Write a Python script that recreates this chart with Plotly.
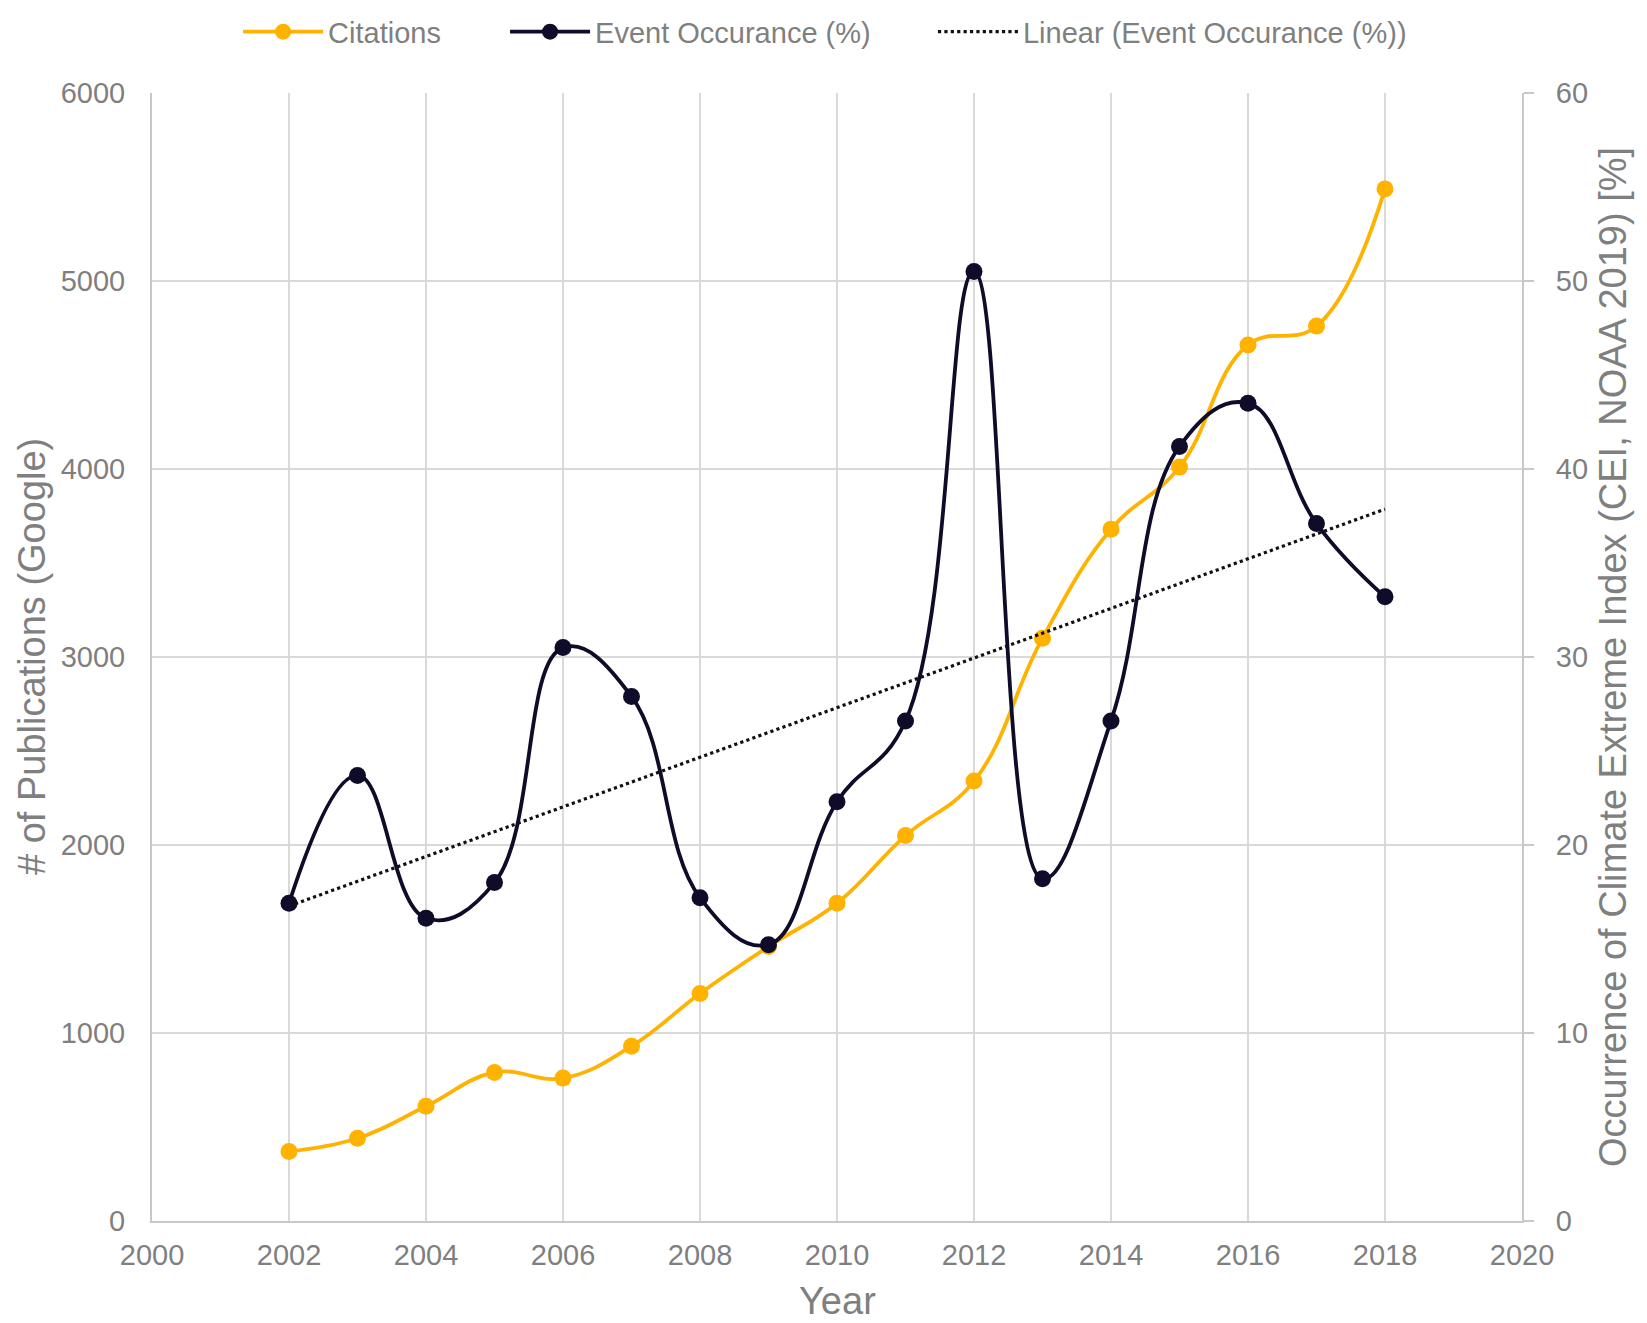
import numpy as np
import plotly.graph_objects as go

years = [2002, 2003, 2004, 2005, 2006, 2007, 2008, 2009, 2010,
         2011, 2012, 2013, 2014, 2015, 2016, 2017, 2018]
citations = [370, 440, 610, 790, 760, 930, 1210, 1460, 1690,
             2050, 2340, 3100, 3680, 4010, 4660, 4760, 5490]
event_pct = [16.9, 23.7, 16.1, 18.0, 30.5, 27.9, 17.2, 14.7, 22.3,
             26.6, 50.5, 18.2, 26.6, 41.2, 43.5, 37.1, 33.2]

x_ticks = list(range(2000, 2021, 2))
y1_ticks = list(range(0, 6001, 1000))
y2_ticks = list(range(0, 61, 10))

# linear trendline of the event occurrence series
coef = np.polyfit(years, event_pct, 1)
trend = np.polyval(coef, [years[0], years[-1]])

ORANGE = "#FFB300"
NAVY = "#0F0C29"
TXT = "#7F7F7F"
GRID = "#D9D9D9"
AXIS = "#C8C8C8"
FONT = "Liberation Sans, Arial, sans-serif"

fig = go.Figure()
fig.add_trace(go.Scatter(
    x=years, y=citations, name="Citations", mode="lines+markers",
    line=dict(color=ORANGE, width=3.8, shape="spline", smoothing=1.2),
    marker=dict(color=ORANGE, size=17), yaxis="y", legend="legend"))
fig.add_trace(go.Scatter(
    x=years, y=event_pct, name="Event Occurance (%)", mode="lines+markers",
    line=dict(color=NAVY, width=3.8, shape="spline", smoothing=1.2),
    marker=dict(color=NAVY, size=17), yaxis="y2", legend="legend2"))
fig.add_trace(go.Scatter(
    x=[years[0], years[-1]], y=trend, name="Linear (Event Occurance (%))",
    mode="lines", line=dict(color="#111111", width=3.2, dash="dot"),
    yaxis="y2", legend="legend3"))

def leg(xpos):
    return dict(orientation="h", xref="container", yref="container",
                x=xpos, xanchor="left", y=0.982, yanchor="middle",
                font=dict(size=29, color=TXT), itemwidth=80,
                bgcolor="rgba(0,0,0,0)")

fig.update_layout(
    width=1647, height=1323,
    margin=dict(l=144, r=133, t=85, b=110),
    paper_bgcolor="white", plot_bgcolor="white",
    font=dict(family=FONT, color=TXT, size=29),
    showlegend=True,
    legend=leg(0.1397), legend2=leg(0.3018), legend3=leg(0.5616),
    xaxis=dict(range=[2000, 2020], tickvals=x_ticks, showgrid=True,
               gridcolor=GRID, gridwidth=2, showline=True, linecolor=AXIS,
               linewidth=2, ticks="outside", ticklen=7,
               tickcolor="rgba(0,0,0,0)", zeroline=False,
               tickfont=dict(size=29, color=TXT)),
    yaxis=dict(range=[0, 6000], tickvals=y1_ticks, showgrid=True,
               gridcolor=GRID, gridwidth=2, showline=True, linecolor=AXIS,
               linewidth=2, ticks="outside", ticklen=19,
               tickcolor="rgba(0,0,0,0)", zeroline=False,
               tickfont=dict(size=29, color=TXT)),
    yaxis2=dict(range=[0, 60], tickvals=y2_ticks, overlaying="y",
                side="right", showgrid=False, showline=True, linecolor=AXIS,
                linewidth=2, ticks="outside", ticklen=10, tickcolor=AXIS,
                tickwidth=2, zeroline=False, ticklabelstandoff=16,
                tickfont=dict(size=29, color=TXT)),
    annotations=[
        dict(text="# of Publications (Google)", xref="paper", yref="paper",
             x=0, y=0.5, xshift=-120, textangle=-90, showarrow=False,
             xanchor="center", yanchor="middle",
             font=dict(size=38, color=TXT)),
        dict(text="Occurrence of Climate Extreme Index (CEI, NOAA 2019) [%]",
             xref="paper", yref="paper", x=1, y=0.5, xshift=91,
             textangle=-90, showarrow=False, xanchor="center",
             yanchor="middle", font=dict(size=38, color=TXT)),
        dict(text="Year", xref="paper", yref="paper", x=0.5, y=0,
             yshift=-80, showarrow=False, xanchor="center",
             yanchor="middle", font=dict(size=38, color=TXT)),
    ],
)

fig.write_html("out.html")
